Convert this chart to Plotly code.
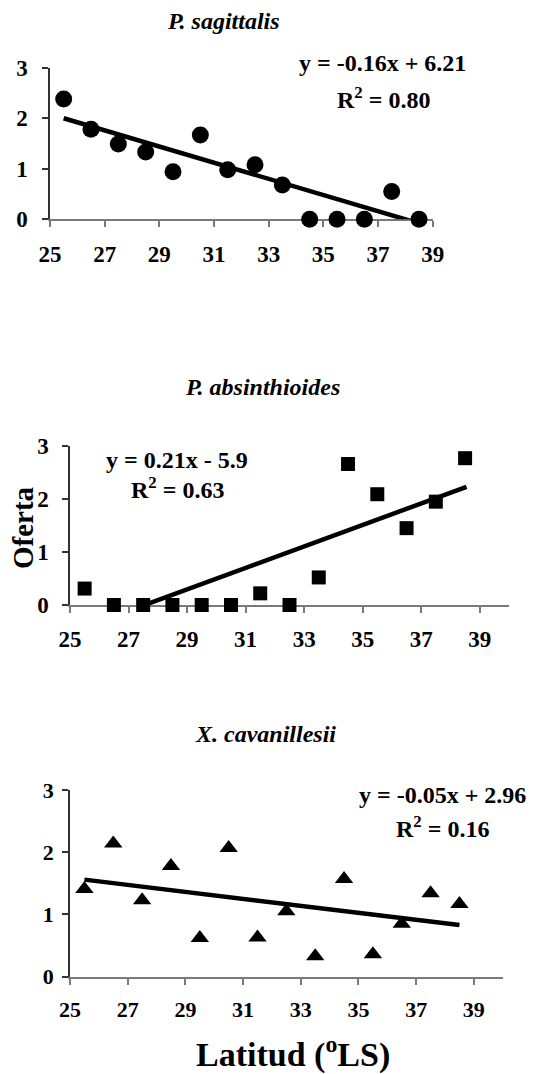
import plotly.graph_objects as go

# ---------------- data ----------------
latitude = [25.5, 26.5, 27.5, 28.5, 29.5, 30.5, 31.5, 32.5, 33.5, 34.5, 35.5, 36.5, 37.5, 38.5]

sagittalis = [2.38, 1.78, 1.49, 1.33, 0.94, 1.67, 0.98, 1.08, 0.68, 0.0, 0.0, 0.0, 0.55, 0.0]
sagittalis_trend_x = [25.5, 38.5]
sagittalis_trend_y = [2.0, -0.08]

absinthioides = [0.31, 0.0, 0.0, 0.0, 0.0, 0.0, 0.22, 0.0, 0.52, 2.66, 2.09, 1.45, 1.95, 2.77]
absinthioides_trend_x = [27.35, 38.55]
absinthioides_trend_y = [-0.04, 2.23]

cavanillesii = [1.41, 2.14, 1.23, 1.78, 0.62, 2.07, 0.63, 1.05, 0.33, 1.57, 0.36, 0.85, 1.34, 1.17]
cavanillesii_trend_x = [25.5, 38.5]
cavanillesii_trend_y = [1.56, 0.83]

titles = ["P. sagittalis", "P. absinthioides", "X. cavanillesii"]
equations = ["y = -0.16x + 6.21", "y = 0.21x - 5.9", "y = -0.05x + 2.96"]
r2_labels = ["R<sup>2</sup> = 0.80", "R<sup>2</sup> = 0.63", "R<sup>2</sup> = 0.16"]
x_ticks = [25, 27, 29, 31, 33, 35, 37, 39]
y_ticks = [0, 1, 2, 3]
y_title = "Oferta"
x_title = "Latitud (<sup>o</sup>LS)"

# ---------------- layout helpers ----------------
# the page body adds an 8px margin around the figure div
OFF = 8
W, H = 542 - OFF, 1074 - OFF
FONT = "Liberation Serif, Times New Roman, serif"


def px(x):
    return (x - OFF) / W


def py(y):
    return 1 - (y - OFF) / H


fig = go.Figure()

panels = [
    dict(vals=sagittalis, tx=sagittalis_trend_x, ty=sagittalis_trend_y, symbol="circle", size=17,
         xdom=(50, 432.7), ydom=(219.3, 67.7), xrange=(25, 39), tick_font=23, standoff=7, ystandoff=10),
    dict(vals=absinthioides, tx=absinthioides_trend_x, ty=absinthioides_trend_y, symbol="square", size=14,
         xdom=(70, 509), ydom=(605, 446), xrange=(25, 40), tick_font=23, standoff=6, ystandoff=9),
    dict(vals=cavanillesii, tx=cavanillesii_trend_x, ty=cavanillesii_trend_y, symbol="triangle-up", size=16,
         xdom=(70, 502.7), ydom=(976.7, 790), xrange=(25, 40), tick_font=22, standoff=6, ystandoff=4),
]

for i, p in enumerate(panels):
    n = "" if i == 0 else str(i + 1)
    xa, ya = "x" + n, "y" + n
    fig.add_trace(go.Scatter(
        x=p["tx"], y=p["ty"], mode="lines", xaxis=xa, yaxis=ya,
        line=dict(color="black", width=4.5), showlegend=False, hoverinfo="skip"))
    fig.add_trace(go.Scatter(
        x=latitude, y=p["vals"], mode="markers", xaxis=xa, yaxis=ya, cliponaxis=False,
        marker=dict(symbol=p["symbol"], size=p["size"], color="black", line=dict(width=0)),
        showlegend=False))
    tf = dict(family=FONT, size=p["tick_font"], color="black", weight="bold")
    fig.layout["xaxis" + n] = dict(
        domain=[px(p["xdom"][0]), px(p["xdom"][1])], range=list(p["xrange"]), anchor=ya,
        tickmode="array", tickvals=x_ticks, ticktext=[str(t) for t in x_ticks],
        ticks="outside", ticklen=6, tickwidth=1.5, tickcolor="#7a7a7a",
        showline=True, linecolor="#7a7a7a", linewidth=2, showgrid=False, zeroline=False,
        tickfont=tf, ticklabelstandoff=p["standoff"], layer="below traces", automargin=False)
    fig.layout["yaxis" + n] = dict(
        domain=[py(p["ydom"][0]), py(p["ydom"][1])], range=[0, 3], anchor=xa,
        tickmode="array", tickvals=y_ticks, ticktext=[str(t) for t in y_ticks],
        ticks="outside", ticklen=6, tickwidth=1.5, tickcolor="#333333",
        showline=True, linecolor="#333333", linewidth=1.5, showgrid=False, zeroline=False,
        tickfont=tf, ticklabelstandoff=p["ystandoff"], layer="below traces", automargin=False)

ann = []


def add_text(text, x, y, size, italic=False, angle=0):
    ann.append(dict(text=text, x=px(x), y=py(y), xref="paper", yref="paper",
                    xanchor="center", yanchor="middle", showarrow=False, textangle=angle,
                    font=dict(family=FONT, size=size, color="black", weight="bold",
                              style="italic" if italic else "normal")))


title_pos = [(223, 21), (262, 387), (265, 734)]
eq_pos = [(382, 63), (177, 460), (442, 795)]
r2_pos = [(383, 98), (177, 488), (442, 827)]
for i in range(3):
    add_text(titles[i], *title_pos[i], 24, italic=True)
    add_text(equations[i], *eq_pos[i], 24)
    add_text(r2_labels[i], *r2_pos[i], 24)

add_text(y_title, 23, 528, 29, angle=-90)
add_text(x_title, 293, 1052, 34)

fig.update_layout(template="none", width=W, height=H, margin=dict(l=0, r=0, t=0, b=0, pad=0),
                  paper_bgcolor="white", plot_bgcolor="white", annotations=ann,
                  showlegend=False)

fig.write_html("out.html")
